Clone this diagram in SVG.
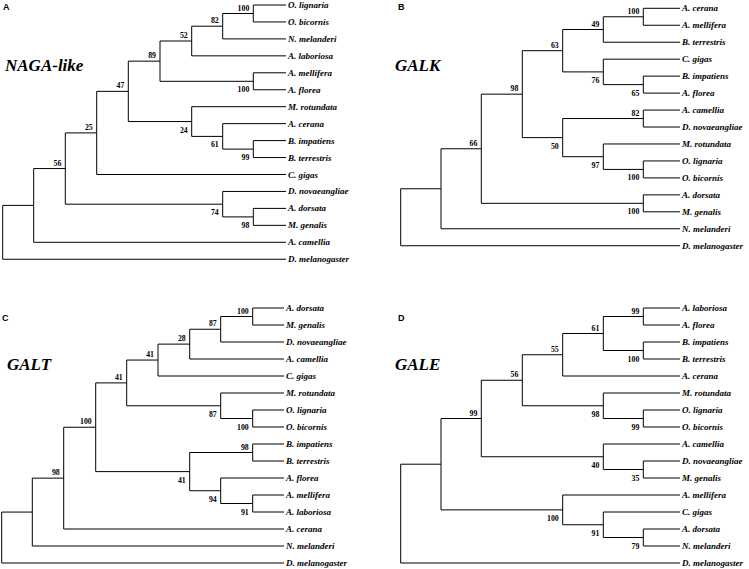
<svg xmlns="http://www.w3.org/2000/svg" width="749" height="569" viewBox="0 0 749 569">
<style>
.br{fill:none;stroke:#000;stroke-width:1}
.lf{font-family:"Liberation Serif","Times New Roman",serif;font-style:italic;font-weight:bold;font-size:9px;fill:#000}
.bs{font-family:"Liberation Serif","Times New Roman",serif;font-weight:bold;font-size:7.8px;fill:#000;text-anchor:end}
.tt{font-family:"Liberation Serif","Times New Roman",serif;font-style:italic;font-weight:bold;font-size:17px;fill:#000}
.pl{font-family:"Liberation Sans",Arial,sans-serif;font-weight:bold;font-size:9px;fill:#000}
</style>
<rect width="749" height="569" fill="#fff"/>

<!-- Panel A -->
<g id="panelA">
<text class="pl" x="3" y="10">A</text>
<text class="tt" x="5" y="71">NAGA-like</text>
<g id="A-connectors">
<path class="br" d="M33.7,205.4H2.7V259.25H286"/>
<path class="br" d="M65.3,168.55H33.7V242.3H286"/>
<path class="br" d="M96.7,132.9H65.3V204.2H222.7"/>
<path class="br" d="M286,191.45H222.7V216.9H253.3"/>
<path class="br" d="M286,208.4H253.3V225.35H286"/>
<path class="br" d="M128.3,91.35H96.7V174.5H286"/>
<path class="br" d="M160,61.15H128.3V121.55H191.7"/>
<path class="br" d="M191.7,41H160V81.3H253.3"/>
<path class="br" d="M286,72.8H253.3V89.75H286"/>
<path class="br" d="M222.7,26.2H191.7V55.85H286"/>
<path class="br" d="M253.3,13.5H222.7V38.9H286"/>
<path class="br" d="M286,5H253.3V21.95H286"/>
<path class="br" d="M286,106.7H191.7V136.4H222.7"/>
<path class="br" d="M286,123.65H222.7V149.1H253.3"/>
<path class="br" d="M286,140.6H253.3V157.55H286"/>
</g>
<g id="A-support">
<g id="A-n100a"><text class="bs" x="249.3" y="10.5">100</text></g>
<g id="A-n82"><text class="bs" x="218.7" y="23.2">82</text></g>
<g id="A-n52"><text class="bs" x="187.7" y="38">52</text></g>
<g id="A-n100b"><text class="bs" x="249.3" y="92.3">100</text></g>
<g id="A-n89"><text class="bs" x="156" y="58.2">89</text></g>
<g id="A-n99"><text class="bs" x="249.3" y="160.1">99</text></g>
<g id="A-n61"><text class="bs" x="218.7" y="147.4">61</text></g>
<g id="A-n24"><text class="bs" x="187.7" y="132.5">24</text></g>
<g id="A-n47"><text class="bs" x="124.3" y="88.4">47</text></g>
<g id="A-n25"><text class="bs" x="92.7" y="129.9">25</text></g>
<g id="A-n98"><text class="bs" x="249.3" y="227.9">98</text></g>
<g id="A-n74"><text class="bs" x="218.7" y="215.2">74</text></g>
<g id="A-n56"><text class="bs" x="61.3" y="165.6">56</text></g>
</g>
<g id="A-leaves">
<g id="A-O-lignaria"><text class="lf" x="288" y="8">O. lignaria</text></g>
<g id="A-O-bicornis"><text class="lf" x="288" y="24.95">O. bicornis</text></g>
<g id="A-N-melanderi"><text class="lf" x="288" y="41.9">N. melanderi</text></g>
<g id="A-A-laboriosa"><text class="lf" x="288" y="58.85">A. laboriosa</text></g>
<g id="A-A-mellifera"><text class="lf" x="288" y="75.8">A. mellifera</text></g>
<g id="A-A-florea"><text class="lf" x="288" y="92.75">A. florea</text></g>
<g id="A-M-rotundata"><text class="lf" x="288" y="109.7">M. rotundata</text></g>
<g id="A-A-cerana"><text class="lf" x="288" y="126.65">A. cerana</text></g>
<g id="A-B-impatiens"><text class="lf" x="288" y="143.6">B. impatiens</text></g>
<g id="A-B-terrestris"><text class="lf" x="288" y="160.55">B. terrestris</text></g>
<g id="A-C-gigas"><text class="lf" x="288" y="177.5">C. gigas</text></g>
<g id="A-D-novaeangliae"><text class="lf" x="288" y="194.45">D. novaeangliae</text></g>
<g id="A-A-dorsata"><text class="lf" x="288" y="211.4">A. dorsata</text></g>
<g id="A-M-genalis"><text class="lf" x="288" y="228.35">M. genalis</text></g>
<g id="A-A-camellia"><text class="lf" x="288" y="245.3">A. camellia</text></g>
<g id="A-D-melanogaster"><text class="lf" x="288" y="262.25">D. melanogaster</text></g>
</g>
</g>

<!-- Panel B -->
<g id="panelB">
<text class="pl" x="398" y="10">B</text>
<text class="tt" x="395" y="71">GALK</text>
<g id="B-connectors">
<path class="br" d="M441,188.77H400.7V245.74H680"/>
<path class="br" d="M481.3,148.75H441V228.78H680"/>
<path class="br" d="M522.3,94.16H481.3V203.34H643.3"/>
<path class="br" d="M680,194.86H643.3V211.82H680"/>
<path class="br" d="M562.7,50.7H522.3V137.62H562.7"/>
<path class="br" d="M603.3,29.5H562.7V71.9H603.3"/>
<path class="br" d="M643.3,16.78H603.3V42.22H680"/>
<path class="br" d="M680,8.3H643.3V25.26H680"/>
<path class="br" d="M680,59.18H603.3V84.62H643.3"/>
<path class="br" d="M680,76.14H643.3V93.1H680"/>
<path class="br" d="M643.3,118.54H562.7V156.7H603.3"/>
<path class="br" d="M680,110.06H643.3V127.02H680"/>
<path class="br" d="M680,143.98H603.3V169.42H643.3"/>
<path class="br" d="M680,160.94H643.3V177.9H680"/>
</g>
<g id="B-support">
<g id="B-n100a"><text class="bs" x="639.3" y="13.8">100</text></g>
<g id="B-n49"><text class="bs" x="599.3" y="26.5">49</text></g>
<g id="B-n76"><text class="bs" x="599.3" y="82.9">76</text></g>
<g id="B-n65"><text class="bs" x="639.3" y="95.6">65</text></g>
<g id="B-n63"><text class="bs" x="558.7" y="47.7">63</text></g>
<g id="B-n82"><text class="bs" x="639.3" y="115.5">82</text></g>
<g id="B-n97"><text class="bs" x="599.3" y="167.7">97</text></g>
<g id="B-n100b"><text class="bs" x="639.3" y="180.4">100</text></g>
<g id="B-n50"><text class="bs" x="558.7" y="148.6">50</text></g>
<g id="B-n98"><text class="bs" x="518.3" y="91.2">98</text></g>
<g id="B-n100c"><text class="bs" x="639.3" y="214.3">100</text></g>
<g id="B-n66"><text class="bs" x="477.3" y="145.8">66</text></g>
</g>
<g id="B-leaves">
<g id="B-A-cerana"><text class="lf" x="682" y="11.3">A. cerana</text></g>
<g id="B-A-mellifera"><text class="lf" x="682" y="28.26">A. mellifera</text></g>
<g id="B-B-terrestris"><text class="lf" x="682" y="45.22">B. terrestris</text></g>
<g id="B-C-gigas"><text class="lf" x="682" y="62.18">C. gigas</text></g>
<g id="B-B-impatiens"><text class="lf" x="682" y="79.14">B. impatiens</text></g>
<g id="B-A-florea"><text class="lf" x="682" y="96.1">A. florea</text></g>
<g id="B-A-camellia"><text class="lf" x="682" y="113.06">A. camellia</text></g>
<g id="B-D-novaeangliae"><text class="lf" x="682" y="130.02">D. novaeangliae</text></g>
<g id="B-M-rotundata"><text class="lf" x="682" y="146.98">M. rotundata</text></g>
<g id="B-O-lignaria"><text class="lf" x="682" y="163.94">O. lignaria</text></g>
<g id="B-O-bicornis"><text class="lf" x="682" y="180.9">O. bicornis</text></g>
<g id="B-A-dorsata"><text class="lf" x="682" y="197.86">A. dorsata</text></g>
<g id="B-M-genalis"><text class="lf" x="682" y="214.82">M. genalis</text></g>
<g id="B-N-melanderi"><text class="lf" x="682" y="231.78">N. melanderi</text></g>
<g id="B-D-melanogaster"><text class="lf" x="682" y="248.74">D. melanogaster</text></g>
</g>
</g>

<!-- Panel C -->
<g id="panelC">
<text class="pl" x="2" y="321">C</text>
<text class="tt" x="7" y="370">GALT</text>
<g id="C-connectors">
<path class="br" d="M32.3,512.07H1.7V563H284"/>
<path class="br" d="M63.7,478.13H32.3V546H284"/>
<path class="br" d="M95.7,427.26H63.7V529H284"/>
<path class="br" d="M126.7,382.9H95.7V471.62H189.7"/>
<path class="br" d="M158,360.06H126.7V405.75H220.7"/>
<path class="br" d="M189.7,344.12H158V376H284"/>
<path class="br" d="M220.7,329.25H189.7V359H284"/>
<path class="br" d="M252.7,316.5H220.7V342H284"/>
<path class="br" d="M284,308H252.7V325H284"/>
<path class="br" d="M284,393H220.7V418.5H252.7"/>
<path class="br" d="M284,410H252.7V427H284"/>
<path class="br" d="M252.7,452.5H189.7V490.75H220.7"/>
<path class="br" d="M284,444H252.7V461H284"/>
<path class="br" d="M284,478H220.7V503.5H252.7"/>
<path class="br" d="M284,495H252.7V512H284"/>
</g>
<g id="C-support">
<g id="C-n100a"><text class="bs" x="248.7" y="313.5">100</text></g>
<g id="C-n87a"><text class="bs" x="216.7" y="326.25">87</text></g>
<g id="C-n28"><text class="bs" x="185.7" y="341.1">28</text></g>
<g id="C-n41a"><text class="bs" x="154" y="357.1">41</text></g>
<g id="C-n100b"><text class="bs" x="248.7" y="429.5">100</text></g>
<g id="C-n87b"><text class="bs" x="216.7" y="416.75">87</text></g>
<g id="C-n41b"><text class="bs" x="122.7" y="379.9">41</text></g>
<g id="C-n98b"><text class="bs" x="248.7" y="449.5">98</text></g>
<g id="C-n91"><text class="bs" x="248.7" y="514.5">91</text></g>
<g id="C-n94"><text class="bs" x="216.7" y="501.75">94</text></g>
<g id="C-n41c"><text class="bs" x="185.7" y="482.6">41</text></g>
<g id="C-n100"><text class="bs" x="91.7" y="424.3">100</text></g>
<g id="C-n98"><text class="bs" x="59.7" y="475.1">98</text></g>
</g>
<g id="C-leaves">
<g id="C-A-dorsata"><text class="lf" x="286" y="311">A. dorsata</text></g>
<g id="C-M-genalis"><text class="lf" x="286" y="328">M. genalis</text></g>
<g id="C-D-novaeangliae"><text class="lf" x="286" y="345">D. novaeangliae</text></g>
<g id="C-A-camellia"><text class="lf" x="286" y="362">A. camellia</text></g>
<g id="C-C-gigas"><text class="lf" x="286" y="379">C. gigas</text></g>
<g id="C-M-rotundata"><text class="lf" x="286" y="396">M. rotundata</text></g>
<g id="C-O-lignaria"><text class="lf" x="286" y="413">O. lignaria</text></g>
<g id="C-O-bicornis"><text class="lf" x="286" y="430">O. bicornis</text></g>
<g id="C-B-impatiens"><text class="lf" x="286" y="447">B. impatiens</text></g>
<g id="C-B-terrestris"><text class="lf" x="286" y="464">B. terrestris</text></g>
<g id="C-A-florea"><text class="lf" x="286" y="481">A. florea</text></g>
<g id="C-A-mellifera"><text class="lf" x="286" y="498">A. mellifera</text></g>
<g id="C-A-laboriosa"><text class="lf" x="286" y="515">A. laboriosa</text></g>
<g id="C-A-cerana"><text class="lf" x="286" y="532">A. cerana</text></g>
<g id="C-N-melanderi"><text class="lf" x="286" y="549">N. melanderi</text></g>
<g id="C-D-melanogaster"><text class="lf" x="286" y="566">D. melanogaster</text></g>
</g>
</g>

<!-- Panel D -->
<g id="panelD">
<text class="pl" x="398" y="321">D</text>
<text class="tt" x="395" y="370">GALE</text>
<g id="D-connectors">
<path class="br" d="M441,464.19H400.7V563H680"/>
<path class="br" d="M481.3,418.5H441V509.88H562.7"/>
<path class="br" d="M522.3,380.25H481.3V456.75H603.3"/>
<path class="br" d="M562.7,354.75H522.3V405.75H603.3"/>
<path class="br" d="M603.3,333.5H562.7V376H680"/>
<path class="br" d="M643.3,316.5H603.3V350.5H643.3"/>
<path class="br" d="M680,308H643.3V325H680"/>
<path class="br" d="M680,342H643.3V359H680"/>
<path class="br" d="M680,393H603.3V418.5H643.3"/>
<path class="br" d="M680,410H643.3V427H680"/>
<path class="br" d="M680,444H603.3V469.5H643.3"/>
<path class="br" d="M680,461H643.3V478H680"/>
<path class="br" d="M680,495H562.7V524.75H603.3"/>
<path class="br" d="M680,512H603.3V537.5H643.3"/>
<path class="br" d="M680,529H643.3V546H680"/>
</g>
<g id="D-support">
<g id="D-n99a"><text class="bs" x="639.3" y="313.5">99</text></g>
<g id="D-n100a"><text class="bs" x="639.3" y="361.5">100</text></g>
<g id="D-n61"><text class="bs" x="599.3" y="330.5">61</text></g>
<g id="D-n55"><text class="bs" x="558.7" y="351.75">55</text></g>
<g id="D-n99b"><text class="bs" x="639.3" y="429.5">99</text></g>
<g id="D-n98"><text class="bs" x="599.3" y="416.75">98</text></g>
<g id="D-n56"><text class="bs" x="518.3" y="377.25">56</text></g>
<g id="D-n35"><text class="bs" x="639.3" y="480.5">35</text></g>
<g id="D-n40"><text class="bs" x="599.3" y="467.75">40</text></g>
<g id="D-n99"><text class="bs" x="477.3" y="415.5">99</text></g>
<g id="D-n79"><text class="bs" x="639.3" y="548.5">79</text></g>
<g id="D-n91"><text class="bs" x="599.3" y="535.75">91</text></g>
<g id="D-n100"><text class="bs" x="558.7" y="520.9">100</text></g>
</g>
<g id="D-leaves">
<g id="D-A-laboriosa"><text class="lf" x="682" y="311">A. laboriosa</text></g>
<g id="D-A-florea"><text class="lf" x="682" y="328">A. florea</text></g>
<g id="D-B-impatiens"><text class="lf" x="682" y="345">B. impatiens</text></g>
<g id="D-B-terrestris"><text class="lf" x="682" y="362">B. terrestris</text></g>
<g id="D-A-cerana"><text class="lf" x="682" y="379">A. cerana</text></g>
<g id="D-M-rotundata"><text class="lf" x="682" y="396">M. rotundata</text></g>
<g id="D-O-lignaria"><text class="lf" x="682" y="413">O. lignaria</text></g>
<g id="D-O-bicornis"><text class="lf" x="682" y="430">O. bicornis</text></g>
<g id="D-A-camellia"><text class="lf" x="682" y="447">A. camellia</text></g>
<g id="D-D-novaeangliae"><text class="lf" x="682" y="464">D. novaeangliae</text></g>
<g id="D-M-genalis"><text class="lf" x="682" y="481">M. genalis</text></g>
<g id="D-A-mellifera"><text class="lf" x="682" y="498">A. mellifera</text></g>
<g id="D-C-gigas"><text class="lf" x="682" y="515">C. gigas</text></g>
<g id="D-A-dorsata"><text class="lf" x="682" y="532">A. dorsata</text></g>
<g id="D-N-melanderi"><text class="lf" x="682" y="549">N. melanderi</text></g>
<g id="D-D-melanogaster"><text class="lf" x="682" y="566">D. melanogaster</text></g>
</g>
</g>
</svg>
